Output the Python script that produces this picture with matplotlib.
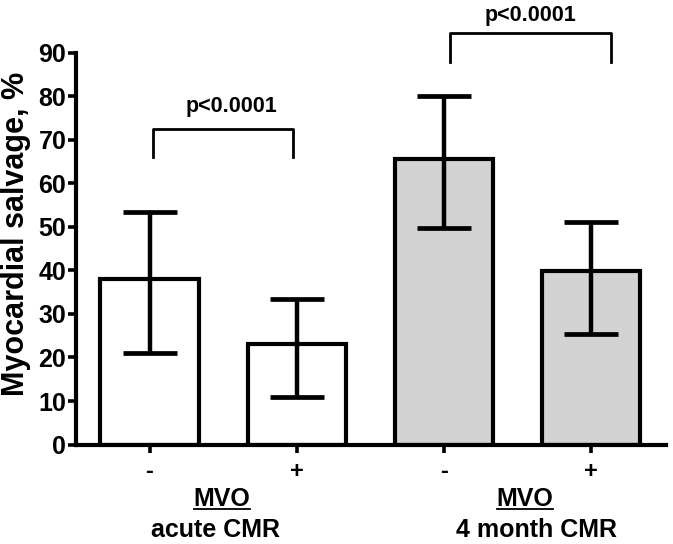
import matplotlib
matplotlib.use("Agg")
import matplotlib.pyplot as plt

categories = ["-", "+", "-", "+"]
values = [38.0, 23.0, 65.6, 39.9]
err_low = [21.0, 11.0, 49.8, 25.5]
err_high = [53.4, 33.5, 80.1, 51.2]
colors = ["white", "white", "#d3d3d3", "#d3d3d3"]
group_labels = ["acute CMR", "4 month CMR"]
yticks = [0, 10, 20, 30, 40, 50, 60, 70, 80, 90]

plt.rcParams['font.family'] = ['Liberation Sans', 'DejaVu Sans']
fig = plt.figure(figsize=(6.73, 5.44), dpi=100)
ax = fig.add_axes([0.1129, 0.1829, 0.8767, 0.7197])

x = list(range(len(values)))
yerr = [[v - l for v, l in zip(values, err_low)], [h - v for v, h in zip(values, err_high)]]
ax.bar(x, values, width=0.667, color=colors, edgecolor="black", linewidth=3.0, zorder=2)
ax.errorbar(x, values, yerr=yerr, fmt="none", ecolor="black", elinewidth=3.2,
            capsize=19.5, capthick=3.4, zorder=3)

ax.set_xlim(-0.5, 3.51)
ax.set_ylim(0, 90)
ax.set_yticks(yticks)
ax.set_yticklabels([str(t) for t in yticks], fontsize=18, fontweight="bold")
ax.set_xticks(x)
ax.set_xticklabels(categories, fontsize=17, fontweight="bold")
ax.tick_params(axis="y", length=6, width=2.6, pad=1)
ax.tick_params(axis="x", length=6, width=2.6, pad=5)
for s in ["top", "right"]:
    ax.spines[s].set_visible(False)
for s in ["left", "bottom"]:
    ax.spines[s].set_linewidth(3.0)
ax.set_ylabel("Myocardial salvage, %", fontsize=22, fontweight="bold")
ax.yaxis.set_label_coords(-0.077, 0.538)

# significance brackets
def bracket(x0, x1, ylow, ytop, tx, ty, text):
    ax.plot([x0, x0, x1, x1], [ylow, ytop, ytop, ylow], color="black", lw=2.0,
            clip_on=False, zorder=4)
    ax.text(tx, ty, text, ha="center", va="center",
            fontsize=15.5, fontweight="bold", clip_on=False)

bracket(0.024, 0.976, 66.1, 72.6, 0.555, 77.6, "p<0.0001")
bracket(2.044, 3.133, 87.9, 94.6, 2.59, 98.7, "p<0.0001")

# group labels
for mx, cx, lab in zip([0.49, 2.55], [0.45, 2.63], group_labels):
    ax.text(mx, -12.6, "MVO", ha="center", va="center", fontsize=18,
            fontweight="bold", clip_on=False)
    ax.plot([mx - 0.19, mx + 0.19], [-14.9, -14.9], color="black", lw=1.3, clip_on=False)
    ax.text(cx, -19.7, lab, ha="center", va="center", fontsize=18,
            fontweight="bold", clip_on=False)

fig.savefig("out.png", dpi=100)
